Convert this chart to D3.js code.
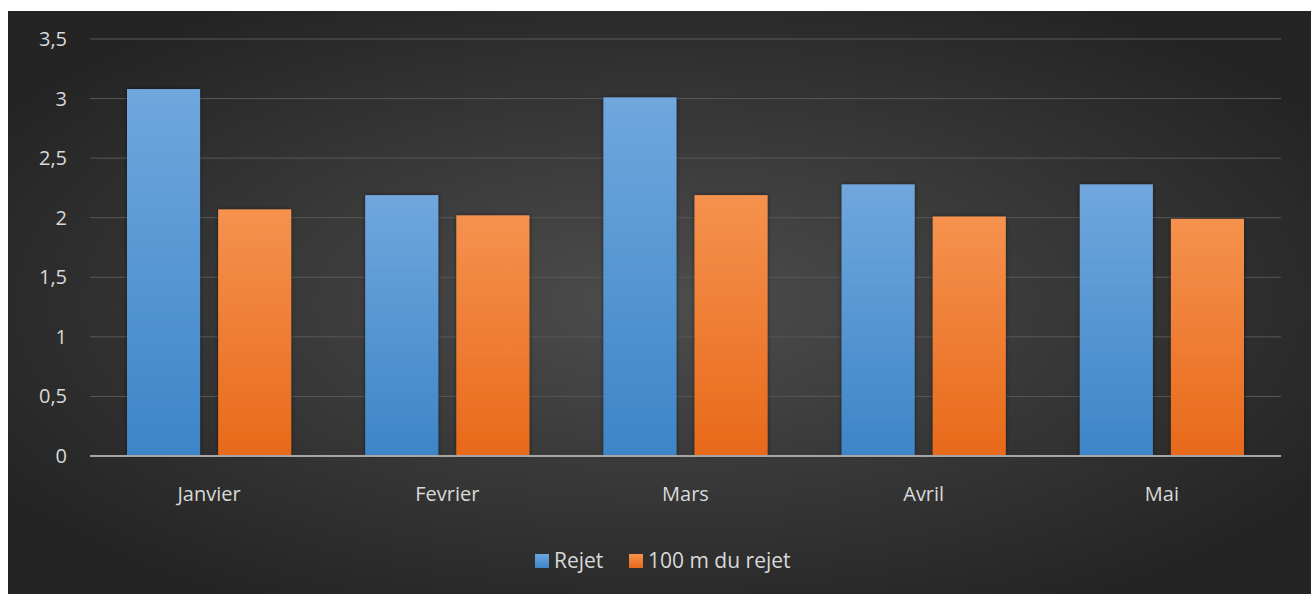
<!DOCTYPE html>
<html>
<head>
<meta charset="utf-8">
<script src="https://cdn.jsdelivr.net/npm/d3@7"></script>
<style>
  body { margin: 0; background: #fff; }
  svg { display: block; font-family: "Open Sans", "Noto Sans", sans-serif; }
</style>
</head>
<body>
<svg id="chart"></svg>
<script>
// Chart data
const months = ["Janvier", "Fevrier", "Mars", "Avril", "Mai"];
const seriesNames = ["Rejet", "100 m du rejet"];
const rejet = [3.08, 2.19, 3.01, 2.28, 2.28];
const rejet100 = [2.07, 2.02, 2.19, 2.01, 1.99];
const yTicks = [0, 0.5, 1, 1.5, 2, 2.5, 3, 3.5];

const W = 1311, H = 594;
const svg = d3.select("#chart").attr("width", W).attr("height", H);
const defs = svg.append("defs");

// Background radial gradient
const bg = defs.append("radialGradient")
  .attr("id", "bg-grad")
  .attr("cx", "50%").attr("cy", "50%").attr("r", "60%");
bg.append("stop").attr("offset", "0%").attr("stop-color", "#4d4d4d");
bg.append("stop").attr("offset", "100%").attr("stop-color", "#242424");

// Bar gradients
const barColors = [
  { id: "blue-grad", top: "#70a7dd", bottom: "#3d85c8" },
  { id: "orange-grad", top: "#f5924e", bottom: "#e8691a" },
];
barColors.forEach((c) => {
  const gr = defs.append("linearGradient")
    .attr("id", c.id)
    .attr("x1", 0).attr("y1", 0).attr("x2", 0).attr("y2", 1);
  gr.append("stop").attr("offset", "0%").attr("stop-color", c.top);
  gr.append("stop").attr("offset", "100%").attr("stop-color", c.bottom);
});

const shadow = defs.append("filter").attr("id", "bar-shadow")
  .attr("x", "-20%").attr("y", "-10%").attr("width", "140%").attr("height", "120%");
shadow.append("feDropShadow")
  .attr("dx", 0).attr("dy", 0).attr("stdDeviation", 2)
  .attr("flood-color", "#000").attr("flood-opacity", 0.5);

svg.append("rect")
  .attr("x", 8).attr("y", 11)
  .attr("width", W - 8).attr("height", H - 11)
  .attr("fill", "url(#bg-grad)");

const margin = { top: 39, left: 90, right: 30, bottom: 138 };
const plotW = W - margin.left - margin.right;
const plotH = H - margin.top - margin.bottom;

const g = svg.append("g").attr("transform", `translate(${margin.left},${margin.top})`);

const x0 = d3.scaleBand().domain(months).range([0, plotW]).paddingInner(0).paddingOuter(0);
const x1 = d3.scaleBand().domain(seriesNames)
  .range([37, x0.bandwidth() - 37]).paddingInner(0.198);
const y = d3.scaleLinear().domain([0, 3.5]).range([plotH, 0]);

// Gridlines
g.append("g")
  .selectAll("line")
  .data(yTicks.filter((d) => d > 0))
  .enter()
  .append("line")
  .attr("x1", 0).attr("x2", plotW)
  .attr("y1", (d) => y(d)).attr("y2", (d) => y(d))
  .attr("stroke", "#585858").attr("stroke-width", 1);

// Y labels
g.append("g")
  .selectAll("text")
  .data(yTicks)
  .enter()
  .append("text")
  .attr("x", -23)
  .attr("y", (d) => y(d))
  .attr("dy", "0.35em")
  .attr("text-anchor", "end")
  .style("font-size", "20px")
  .style("fill", "#d9d9d9")
  .text((d) => String(d).replace(".", ","));

// Bars
const rows = months.map((m, i) => ({ month: m, values: [rejet[i], rejet100[i]] }));
const groups = g.selectAll(".grp")
  .data(rows)
  .enter()
  .append("g")
  .attr("transform", (d) => `translate(${x0(d.month)},0)`);

groups.selectAll("rect")
  .data((d) => d.values.map((v, k) => ({ key: seriesNames[k], value: v, k })))
  .enter()
  .append("rect")
  .attr("x", (d) => x1(d.key))
  .attr("width", x1.bandwidth())
  .attr("y", (d) => y(d.value))
  .attr("height", (d) => plotH - y(d.value))
  .attr("fill", (d) => `url(#${barColors[d.k].id})`)
  .attr("filter", "url(#bar-shadow)");

// X axis line
g.append("line")
  .attr("x1", 0).attr("x2", plotW)
  .attr("y1", plotH).attr("y2", plotH)
  .attr("stroke", "#a6a6a6").attr("stroke-width", 2);

// X labels
g.append("g")
  .selectAll("text")
  .data(months)
  .enter()
  .append("text")
  .attr("x", (d) => x0(d) + x0.bandwidth() / 2)
  .attr("y", plotH + 45)
  .attr("text-anchor", "middle")
  .style("font-size", "20px")
  .style("fill", "#d9d9d9")
  .text((d) => d);

// Legend
const legend = svg.append("g").attr("transform", "translate(535,561)");
const legendX = [0, 94];
seriesNames.forEach((name, i) => {
  const item = legend.append("g").attr("transform", `translate(${legendX[i]},0)`);
  item.append("rect")
    .attr("x", 0).attr("y", -7)
    .attr("width", 14).attr("height", 14)
    .attr("fill", `url(#${barColors[i].id})`);
  item.append("text")
    .attr("x", 19).attr("y", 0).attr("dy", "0.35em")
    .style("font-size", "21px")
    .style("fill", "#d9d9d9")
    .text(name);
});
</script>
</body>
</html>
